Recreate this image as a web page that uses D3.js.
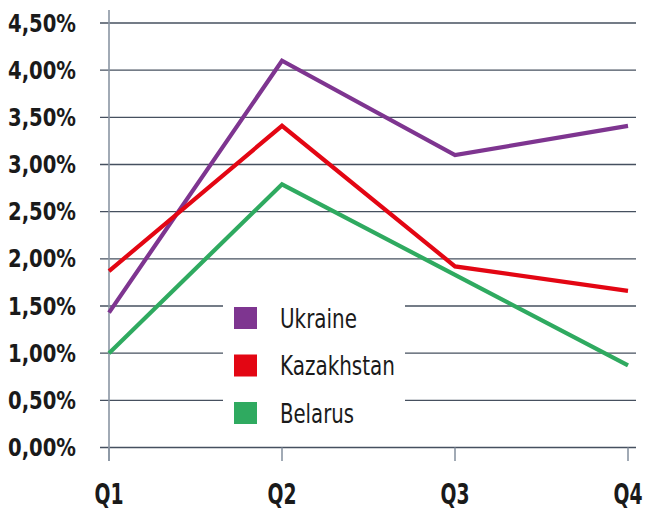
<!DOCTYPE html>
<html>
<head>
<meta charset="utf-8">
<script src="https://cdn.jsdelivr.net/npm/d3@7"></script>
<style>
  body { margin: 0; background: #fff; }
  text { font-family: "DejaVu Sans", sans-serif; font-stretch: condensed; }
</style>
</head>
<body>
<svg id="chart"></svg>
<script>
// Chart data
const quarters = ["Q1", "Q2", "Q3", "Q4"];
const seriesNames = ["Ukraine", "Kazakhstan", "Belarus"];
const ukraine = [1.43, 4.10, 3.10, 3.41];
const kazakhstan = [1.87, 3.41, 1.92, 1.66];
const belarus = [1.00, 2.79, 1.83, 0.87];
const yTicks = [0, 0.5, 1, 1.5, 2, 2.5, 3, 3.5, 4, 4.5];
const colors = ["#7e3590", "#e30613", "#2faa60"];

const width = 650;
const height = 524;

const svg = d3.select("#chart")
    .attr("width", width)
    .attr("height", height);

// Scales
const x = d3.scalePoint()
    .domain(quarters)
    .range([109, 628]);

const y = d3.scaleLinear()
    .domain([0, 4.5])
    .range([447.5, 23]);

// Horizontal gridlines
svg.append("g")
    .selectAll("line")
    .data(yTicks)
    .join("line")
    .attr("x1", 100)
    .attr("x2", 636)
    .attr("y1", d => y(d))
    .attr("y2", d => y(d))
    .attr("stroke", "#46505f")
    .attr("stroke-width", 1.4);

// y tick labels (squeezed to mimic a condensed bold face)
svg.append("g")
    .selectAll("text")
    .data(yTicks)
    .join("text")
    .attr("x", 8)
    .attr("y", d => y(d))
    .attr("dy", "0.36em")
    .attr("font-size", 24)
    .attr("font-weight", "bold")
    .attr("fill", "#1a1a1a")
    .attr("textLength", 68)
    .attr("lengthAdjust", "spacingAndGlyphs")
    .text(d => d3.format(".2f")(d).replace(".", ",") + "%");

// Vertical axis line
svg.append("line")
    .attr("x1", x("Q1"))
    .attr("x2", x("Q1"))
    .attr("y1", 10)
    .attr("y2", 461)
    .attr("stroke", "#8a95a3")
    .attr("stroke-width", 1.6);

// x ticks
svg.append("g")
    .selectAll("line")
    .data(quarters)
    .join("line")
    .attr("x1", d => x(d))
    .attr("x2", d => x(d))
    .attr("y1", y(0))
    .attr("y2", 461)
    .attr("stroke", "#8a95a3")
    .attr("stroke-width", 1.6);

// x labels
svg.append("g")
    .selectAll("text")
    .data(quarters)
    .join("text")
    .attr("x", d => x(d) - 14.5)
    .attr("y", 504)
    .attr("font-size", 29)
    .attr("font-weight", "bold")
    .attr("fill", "#1a1a1a")
    .attr("textLength", 29)
    .attr("lengthAdjust", "spacingAndGlyphs")
    .text(d => d);

// Legend background (covers gridlines)
svg.append("rect")
    .attr("x", 223)
    .attr("y", 290)
    .attr("width", 182)
    .attr("height", 140)
    .attr("fill", "#fff");

// Lines
const allSeries = [ukraine, kazakhstan, belarus];
const line = d3.line()
    .x((d, i) => x(quarters[i]))
    .y(d => y(d));

svg.append("g")
    .selectAll("path")
    .data(allSeries)
    .join("path")
    .attr("fill", "none")
    .attr("stroke", (d, i) => colors[i])
    .attr("stroke-width", 4.2)
    .attr("stroke-linejoin", "miter")
    .attr("d", line);

// Legend
const legendWidths = { Ukraine: 77, Kazakhstan: 115, Belarus: 74 };
const legend = svg.append("g")
    .selectAll("g")
    .data(seriesNames)
    .join("g")
    .attr("transform", (d, i) => `translate(234, ${307 + i * 47.5})`);

legend.append("rect")
    .attr("width", 23)
    .attr("height", 22)
    .attr("fill", (d, i) => colors[i]);

legend.append("text")
    .attr("x", 46)
    .attr("y", 11)
    .attr("dy", "0.36em")
    .attr("font-size", 27)
    .attr("fill", "#1a1a1a")
    .attr("textLength", d => legendWidths[d])
    .attr("lengthAdjust", "spacingAndGlyphs")
    .text(d => d);
</script>
</body>
</html>
